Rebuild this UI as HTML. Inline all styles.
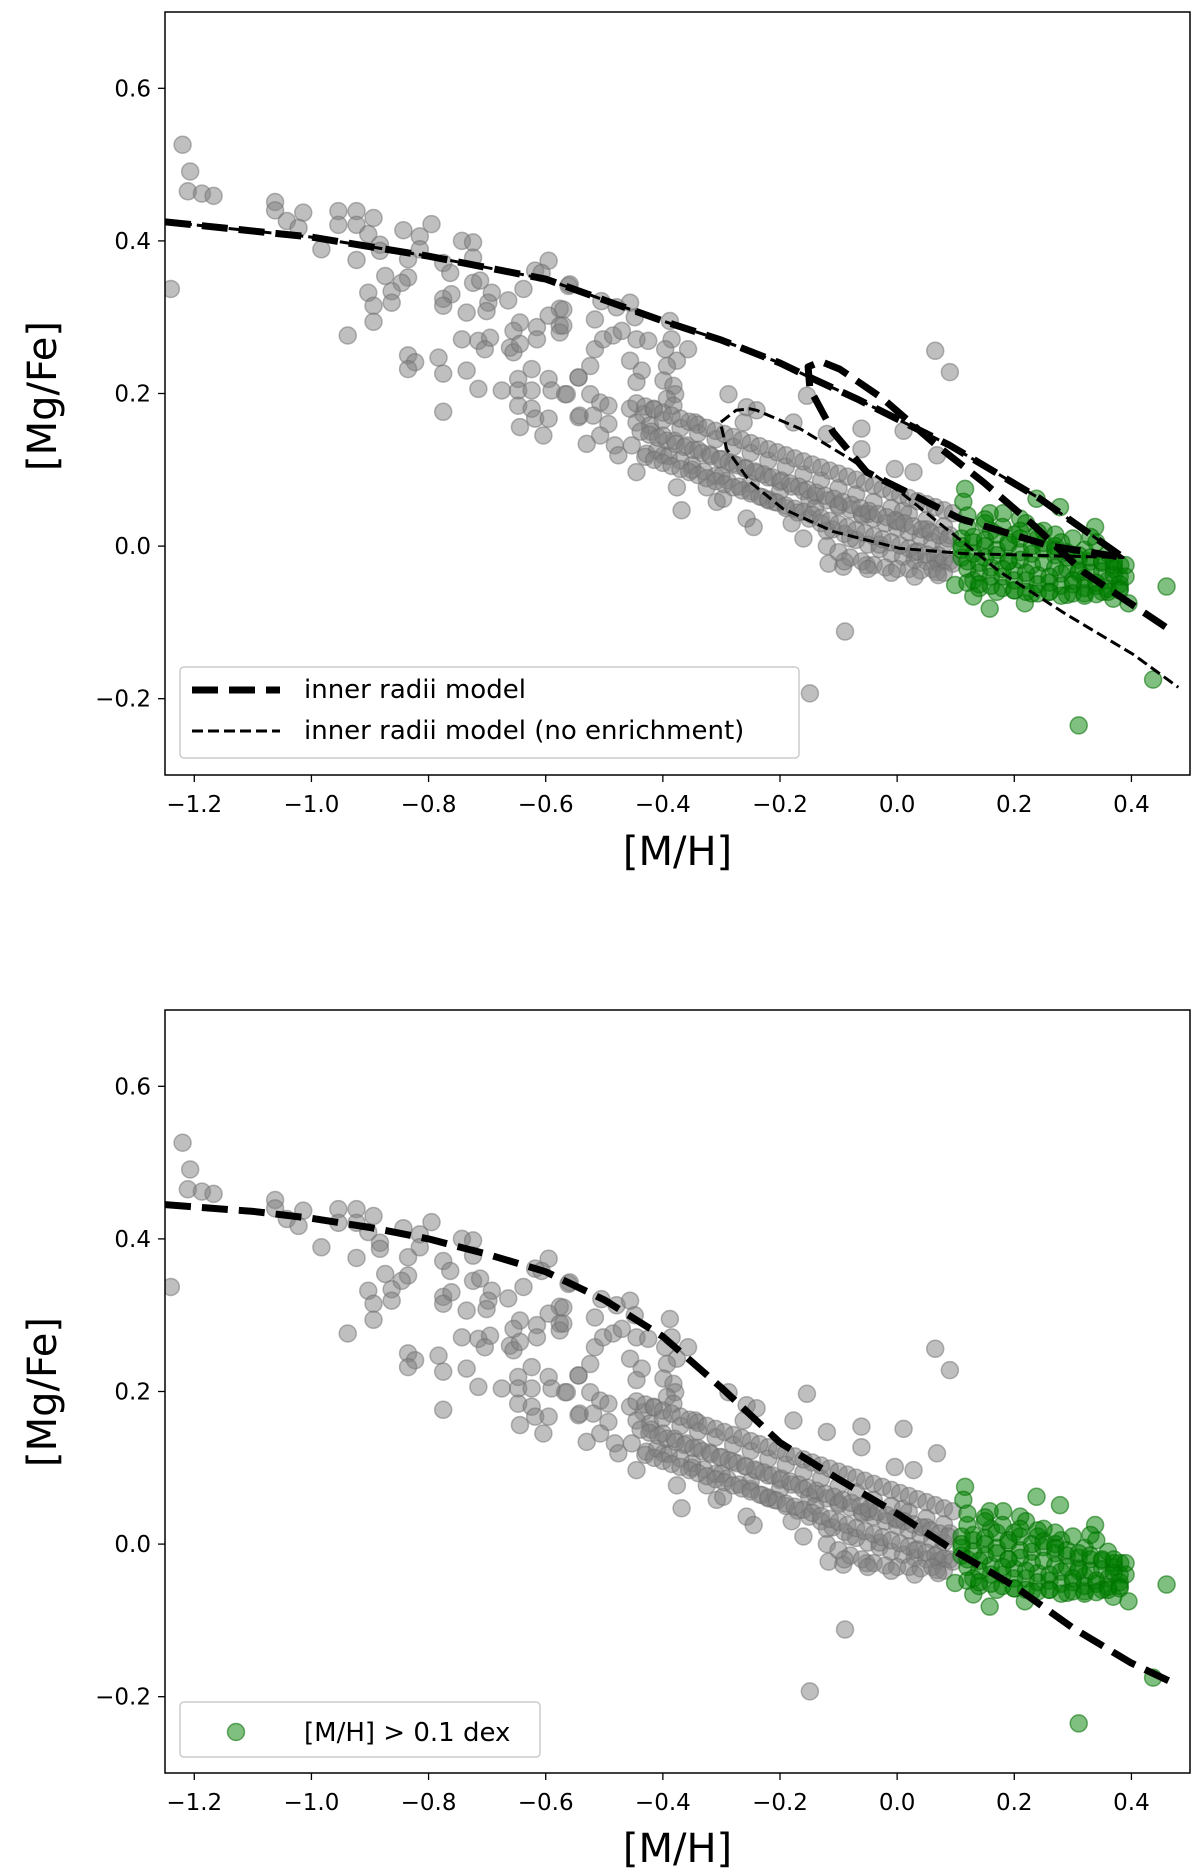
<!DOCTYPE html>
<html><head><meta charset="utf-8"><style>
html,body{margin:0;padding:0;background:#fff;}
svg text{font-family:"DejaVu Sans","Liberation Sans",sans-serif;}
</style></head><body>
<svg id="fig" width="1200" height="1868" viewBox="0 0 1200 1868" xmlns="http://www.w3.org/2000/svg">
<rect width="1200" height="1868" fill="#fff"/>
<g id="top"></g>
<g id="bot"></g>
</svg>
<script>
// ---- data ----
const xTicks = [-1.2,-1.0,-0.8,-0.6,-0.4,-0.2,0.0,0.2,0.4];
const xTickLabels = ["\u22121.2","\u22121.0","\u22120.8","\u22120.6","\u22120.4","\u22120.2","0.0","0.2","0.4"];
const yTicks = [-0.2,0.0,0.2,0.4,0.6];
const yTickLabels = ["\u22120.2","0.0","0.2","0.4","0.6"];
const grayX = [-1.220,-1.207,-1.211,-1.187,-1.167,-1.240,-1.062,-1.062,-1.042,-1.014,-1.022,-0.983,-0.954,-0.954,-0.923,-0.923,-0.894,-0.903,-0.883,-0.883,-0.923,-0.843,-0.815,-0.795,-0.815,-0.835,-0.874,-0.835,-0.846,-0.903,-0.863,-0.863,-0.894,-0.894,-0.938,-0.775,-0.763,-0.743,-0.724,-0.724,-0.724,-0.712,-0.775,-0.761,-0.775,-0.735,-0.692,-0.698,-0.701,-0.664,-0.638,-0.618,-0.595,-0.607,-0.561,-0.576,-0.595,-0.576,-0.576,-0.644,-0.655,-0.615,-0.615,-0.661,-0.655,-0.644,-0.743,-0.715,-0.695,-0.704,-0.835,-0.823,-0.835,-0.783,-0.775,-0.735,-0.715,-0.775,-0.675,-0.647,-0.624,-0.647,-0.624,-0.595,-0.590,-0.567,-0.544,-0.647,-0.624,-0.618,-0.595,-0.644,-0.604,-0.544,
-0.559,-0.570,-0.570,-0.516,-0.505,-0.479,-0.456,-0.448,-0.516,-0.502,-0.485,-0.470,-0.445,-0.425,-0.388,-0.385,-0.396,-0.357,-0.376,-0.393,-0.456,-0.436,-0.445,-0.524,-0.544,-0.564,-0.399,-0.382,-0.379,-0.393,-0.382,-0.524,-0.507,-0.493,-0.542,-0.519,-0.493,-0.507,-0.530,-0.482,-0.476,-0.456,-0.433,-0.416,-0.445,-0.422,-0.453,-0.428,-0.445,-0.399,-0.376,-0.368,-0.345,-0.288,-0.257,-0.240,-0.262,-0.177,-0.154,-0.120,-0.061,-0.061,0.065,0.090,0.011,0.068,-0.004,0.028,-0.308,-0.257,-0.245,-0.160,-0.117,-0.092,-0.052,0.068,-0.325,-0.297,-0.089,-0.149,
-0.42,-0.40,-0.38,-0.36,-0.34,-0.32,-0.30,-0.28,-0.26,-0.24,-0.22,-0.20,-0.18,-0.16,-0.14,-0.12,-0.10,-0.08,-0.06,-0.04,-0.02,0.00,0.02,0.04,0.06,0.08,
-0.41,-0.39,-0.37,-0.35,-0.33,-0.31,-0.29,-0.27,-0.25,-0.23,-0.21,-0.19,-0.17,-0.15,-0.13,-0.11,-0.09,-0.07,-0.05,-0.03,-0.01,0.01,0.03,0.05,0.07,0.09,
-0.40,-0.37,-0.34,-0.31,-0.28,-0.25,-0.22,-0.19,-0.16,-0.13,-0.10,-0.07,-0.04,-0.01,0.02,0.05,0.08,
-0.35,-0.30,-0.25,-0.20,-0.15,-0.10,-0.05,0.00,0.05,0.09,-0.18,-0.12,-0.08,-0.03,0.03,0.07,-0.22,-0.14,-0.06,0.01,
-0.445,-0.43,-0.415,-0.40,-0.385,-0.37,-0.355,-0.34,-0.325,-0.31,-0.295,-0.28,-0.265,-0.25,-0.235,-0.22,-0.205,-0.19,-0.175,-0.16,-0.145,-0.13,-0.115,-0.10,-0.085,-0.07,-0.055,-0.04,-0.025,-0.01,0.005,0.02,0.035,0.05,0.065,0.08,0.095,
-0.438,-0.423,-0.408,-0.393,-0.378,-0.363,-0.348,-0.333,-0.318,-0.303,-0.288,-0.273,-0.258,-0.243,-0.228,-0.213,-0.198,-0.183,-0.168,-0.153,-0.138,-0.123,-0.108,-0.093,-0.078,-0.063,-0.048,-0.033,-0.018,-0.003,0.012,0.027,0.042,0.057,0.072,0.087,
-0.43,-0.415,-0.40,-0.385,-0.37,-0.355,-0.34,-0.325,-0.31,-0.295,-0.28,-0.265,-0.25,-0.235,-0.22,-0.205,-0.19,-0.175,-0.16,-0.145,-0.13,-0.115,-0.10,-0.085,-0.07,-0.055,-0.04,-0.025,-0.01,0.005,0.02,0.035,0.05,0.065,0.08,0.095,
-0.12,-0.10,-0.08,-0.06,-0.04,-0.02,0.00,0.02,0.04,0.06,0.08,-0.09,-0.05,-0.01,0.03,0.07];
const grayY = [0.526,0.491,0.465,0.462,0.459,0.337,0.451,0.440,0.426,0.437,0.417,0.389,0.439,0.421,0.439,0.421,0.430,0.409,0.395,0.387,0.375,0.414,0.406,0.422,0.389,0.376,0.354,0.352,0.345,0.332,0.334,0.319,0.315,0.294,0.276,0.371,0.358,0.400,0.398,0.378,0.345,0.348,0.324,0.330,0.315,0.306,0.332,0.319,0.308,0.322,0.337,0.361,0.374,0.358,0.341,0.311,0.302,0.289,0.280,0.293,0.282,0.287,0.271,0.260,0.254,0.265,0.271,0.269,0.273,0.258,0.250,0.241,0.232,0.247,0.226,0.230,0.206,0.176,0.204,0.219,0.232,0.204,0.204,0.219,0.204,0.199,0.221,0.184,0.180,0.167,0.167,0.156,0.145,0.169,
0.343,0.310,0.289,0.297,0.321,0.313,0.319,0.300,0.258,0.271,0.276,0.282,0.271,0.269,0.295,0.271,0.258,0.258,0.243,0.236,0.243,0.230,0.215,0.236,0.221,0.199,0.217,0.210,0.199,0.193,0.184,0.199,0.188,0.184,0.171,0.171,0.160,0.145,0.134,0.132,0.119,0.180,0.173,0.180,0.162,0.158,0.132,0.121,0.097,0.119,0.077,0.047,0.162,0.199,0.182,0.178,0.162,0.162,0.197,0.147,0.154,0.127,0.256,0.228,0.151,0.119,0.101,0.097,0.058,0.036,0.025,0.010,-0.023,-0.027,-0.025,-0.034,0.077,0.062,-0.112,-0.193,
0.150,0.145,0.138,0.132,0.126,0.120,0.114,0.108,0.102,0.096,0.090,0.084,0.078,0.072,0.066,0.060,0.054,0.048,0.042,0.036,0.030,0.024,0.018,0.012,0.006,0.002,
0.125,0.118,0.112,0.106,0.098,0.092,0.086,0.078,0.072,0.064,0.058,0.050,0.044,0.036,0.030,0.022,0.016,0.008,0.002,-0.004,-0.010,-0.014,-0.018,-0.020,-0.022,-0.020,
0.165,0.155,0.148,0.140,0.130,0.122,0.112,0.104,0.094,0.086,0.076,0.068,0.058,0.050,0.042,0.034,0.026,
0.100,0.092,0.082,0.072,0.062,0.052,0.042,0.032,0.022,0.014,0.030,0.020,0.010,0.002,-0.008,-0.012,0.060,0.050,0.040,0.046,
0.187,0.183,0.179,0.175,0.171,0.167,0.163,0.159,0.155,0.151,0.147,0.143,0.139,0.135,0.131,0.127,0.123,0.119,0.115,0.111,0.107,0.103,0.099,0.095,0.091,0.087,0.083,0.079,0.075,0.071,0.067,0.063,0.059,0.055,0.051,0.047,0.043,
0.150,0.146,0.142,0.138,0.134,0.130,0.126,0.122,0.118,0.114,0.110,0.106,0.102,0.098,0.094,0.090,0.086,0.082,0.078,0.074,0.070,0.066,0.062,0.058,0.054,0.050,0.046,0.042,0.038,0.034,0.030,0.026,0.022,0.018,0.014,0.010,
0.117,0.113,0.109,0.105,0.101,0.097,0.093,0.089,0.085,0.081,0.077,0.073,0.069,0.065,0.061,0.057,0.053,0.049,0.045,0.041,0.037,0.033,0.029,0.025,0.021,0.017,0.013,0.009,0.005,0.001,-0.003,-0.007,-0.011,-0.015,-0.019,-0.023,
0.000,-0.008,-0.015,-0.020,-0.025,-0.028,-0.030,-0.030,-0.032,-0.030,-0.035,-0.020,-0.030,-0.035,-0.040,-0.038];
const greenX = [0.116,0.113,0.278,0.338,0.238,0.158,0.181,0.210,0.460,0.437,0.158,0.130,0.099,0.218,0.395,0.369,0.381,0.310,
0.11,0.13,0.15,0.17,0.19,0.21,0.23,0.25,0.27,0.29,0.31,0.33,0.35,0.37,
0.12,0.14,0.16,0.18,0.20,0.22,0.24,0.26,0.28,0.30,0.32,0.34,0.36,0.38,
0.11,0.14,0.17,0.20,0.23,0.26,0.29,0.32,0.35,0.38,
0.12,0.16,0.20,0.24,0.28,0.32,0.36,0.13,0.19,0.25,0.31,0.37,0.15,0.22,0.27,0.34,
0.11,0.13,0.15,0.17,0.19,0.21,0.23,0.25,0.27,0.29,0.31,0.33,0.35,0.37,0.39,
0.12,0.14,0.16,0.18,0.20,0.22,0.24,0.26,0.28,0.30,0.32,0.34,0.36,0.38,
0.11,0.13,0.15,0.17,0.19,0.21,0.23,0.25,0.27,0.29,0.31,0.33,0.35,0.37,0.39,
0.12,0.14,0.16,0.18,0.20,0.22,0.24,0.26,0.28,0.30,0.32,0.34,0.36,0.38,
0.12,0.15,0.18,0.21,0.24,0.27,0.30,0.33];
const greenY = [0.075,0.058,0.051,0.025,0.062,0.043,0.043,0.036,-0.053,-0.175,-0.082,-0.066,-0.051,-0.075,-0.075,-0.069,-0.025,-0.235,
0.010,0.005,0.000,-0.005,0.002,-0.008,-0.010,-0.004,-0.012,-0.015,-0.018,-0.020,-0.022,-0.025,
-0.030,-0.035,-0.028,-0.040,-0.032,-0.045,-0.038,-0.048,-0.036,-0.050,-0.042,-0.052,-0.045,-0.040,
-0.015,-0.055,-0.060,-0.058,-0.062,-0.060,-0.064,-0.062,-0.060,-0.055,
0.025,0.020,0.015,0.010,0.005,-0.005,-0.010,-0.045,-0.020,0.020,-0.035,-0.030,0.030,0.030,0.000,0.005,
-0.005,-0.010,-0.015,-0.012,-0.020,-0.018,-0.025,-0.022,-0.028,-0.030,-0.032,-0.035,-0.033,-0.038,-0.040,
-0.020,-0.022,-0.040,-0.030,-0.045,-0.035,-0.050,-0.040,-0.052,-0.045,-0.055,-0.048,-0.056,-0.050,
0.000,0.012,0.008,0.015,0.005,0.010,0.000,0.004,-0.005,-0.008,-0.012,-0.015,-0.020,-0.020,-0.025,
-0.048,-0.050,-0.052,-0.055,-0.058,-0.060,-0.062,-0.060,-0.065,-0.062,-0.065,-0.063,-0.060,-0.058,
0.040,0.035,0.025,0.020,0.018,0.015,0.010,0.012];
// model curves (x, y)
const thickX = [-1.25,-1.2,-1.0,-0.8,-0.6,-0.4,-0.3,-0.2,-0.154,-0.069,0.09,0.244,0.386,0.262,0.107,0.027,-0.052,-0.109,-0.149,-0.152,-0.13,-0.098,-0.024,0.061,0.147,0.232,0.318,0.47];
const thickY = [0.425,0.421,0.405,0.380,0.350,0.295,0.270,0.240,0.223,0.193,0.132,0.062,-0.015,0.000,0.036,0.067,0.097,0.149,0.206,0.235,0.242,0.232,0.193,0.136,0.084,0.028,-0.034,-0.112];
const thinX = [-1.25,-1.2,-1.0,-0.8,-0.6,-0.4,-0.3,-0.2,-0.154,-0.069,0.09,0.244,0.386,0.119,0.005,-0.109,-0.195,-0.251,-0.291,-0.302,-0.275,-0.251,-0.24,-0.166,-0.08,0.005,0.09,0.176,0.29,0.403,0.48];
const thinY = [0.425,0.421,0.405,0.380,0.350,0.295,0.270,0.240,0.223,0.193,0.132,0.062,-0.015,-0.010,-0.003,0.019,0.049,0.084,0.127,0.162,0.178,0.180,0.178,0.154,0.114,0.071,0.019,-0.034,-0.090,-0.142,-0.185];
const botX = [-1.25,-1.2,-1.1,-1.0,-0.9,-0.8,-0.7,-0.6,-0.5,-0.4,-0.3,-0.2,-0.1,0.0,0.1,0.2,0.3,0.4,0.48];
const botY = [0.445,0.442,0.436,0.427,0.415,0.400,0.380,0.357,0.320,0.272,0.205,0.133,0.085,0.040,-0.010,-0.055,-0.110,-0.156,-0.185];

// ---- drawing ----
const NS="http://www.w3.org/2000/svg";
const L=165,R=1190,XMIN=-1.25,XMAX=0.5,YMIN=-0.3,YMAX=0.7,H=763;
function mk(tag,parent,attrs){const e=document.createElementNS(NS,tag);for(const k in attrs)e.setAttribute(k,attrs[k]);parent.appendChild(e);return e;}
function X(v){return L+(v-XMIN)/(XMAX-XMIN)*(R-L);}
function makeY(top){return v=>top+(YMAX-v)/(YMAX-YMIN)*H;}

function panel(g,top,xlabY,tickLabY,ylabCY){
  const Y=makeY(top);
  const cp=mk('clipPath',g,{id:'clip'+top});
  mk('rect',cp,{x:L,y:top,width:R-L,height:H});
  const pg=mk('g',g,{'clip-path':'url(#clip'+top+')'});
  
  
  for(let i=0;i<grayX.length;i++){
    const c=mk('circle',pg,{cx:X(grayX[i]),cy:Y(grayY[i]),r:8.5,fill:'rgba(128,128,128,0.5)',stroke:'rgba(110,110,110,0.5)','stroke-width':1.5});
    
    
  }
  for(let i=0;i<greenX.length;i++){
    const c=mk('circle',pg,{cx:X(greenX[i]),cy:Y(greenY[i]),r:8.5,fill:'rgba(0,128,0,0.5)',stroke:'rgba(0,110,0,0.55)','stroke-width':1.5});
    
    
  }
  const fr=mk('rect',g,{x:L,y:top,width:R-L,height:H,fill:'none',stroke:'#000','stroke-width':1.5});
  
  
  for(let i=0;i<xTicks.length;i++){
    const x=X(xTicks[i]);
    mk('line',g,{x1:x,x2:x,y1:top+H,y2:top+H+7,stroke:'#000','stroke-width':1.3});
    const t=mk('text',g,{x:x,y:tickLabY,'font-size':23,'text-anchor':'middle'});
    t.textContent=xTickLabels[i];
    
    
  }
  for(let i=0;i<yTicks.length;i++){
    const y=Y(yTicks[i]);
    mk('line',g,{x1:L-7,x2:L,y1:y,y2:y,stroke:'#000','stroke-width':1.3});
    const t=mk('text',g,{x:L-14,y:y+8,'font-size':23,'text-anchor':'end'});
    t.textContent=yTickLabels[i];
    
    
  }
  const xl=mk('text',g,{x:(L+R)/2,y:xlabY,'font-size':40,'text-anchor':'middle'});
  xl.textContent='[M/H]';
  
  
  const yl=mk('text',g,{x:0,y:0,'font-size':40,'text-anchor':'middle',transform:'translate(56,'+ylabCY+') rotate(-90)'});
  yl.textContent='[Mg/Fe]';
  
  
  return {Y,pg};
}
function path(pg,xs,ys,Y,w,dash,name){
  let d='';for(let i=0;i<xs.length;i++){d+=(i?'L':'M')+X(xs[i]).toFixed(1)+','+Y(ys[i]).toFixed(1);}
  const p=mk('path',pg,{d:d,fill:'none',stroke:'#000','stroke-width':w,'stroke-dasharray':dash,'stroke-linejoin':'round'});
  
  
}
const gt=document.getElementById('top'), gb=document.getElementById('bot');
const T=panel(gt,12,865,812,396);
path(T.pg,thinX,thinY,T.Y,3,'11 5','model-no-enrichment-line');
path(T.pg,thickX,thickY,T.Y,7,'26 11','model-line');
const B=panel(gb,1010,1862,1810,1392);
path(B.pg,botX,botY,B.Y,7,'26 11','model-line');

const lg=mk('g',gt,{});


mk('rect',lg,{x:180,y:667,width:619,height:91,rx:4,fill:'rgba(255,255,255,0.8)',stroke:'#ccc','stroke-width':1.5});
mk('line',lg,{x1:192,x2:280,y1:690,y2:690,stroke:'#000','stroke-width':7,'stroke-dasharray':'26 11'});
mk('line',lg,{x1:192,x2:280,y1:731,y2:731,stroke:'#000','stroke-width':3,'stroke-dasharray':'11 5'});
const l1=mk('text',lg,{x:304,y:698,'font-size':26});l1.textContent='inner radii model';


const l2=mk('text',lg,{x:304,y:739,'font-size':26});l2.textContent='inner radii model (no enrichment)';


const lb=mk('g',gb,{});


mk('rect',lb,{x:180,y:1702,width:360,height:55,rx:4,fill:'rgba(255,255,255,0.8)',stroke:'#ccc','stroke-width':1.5});
mk('circle',lb,{cx:236,cy:1732,r:8.5,fill:'rgba(0,128,0,0.5)',stroke:'rgba(0,110,0,0.55)','stroke-width':1.5});
const l3=mk('text',lb,{x:304,y:1741,'font-size':26});l3.textContent='[M/H] > 0.1 dex';


</script>
</body></html>
